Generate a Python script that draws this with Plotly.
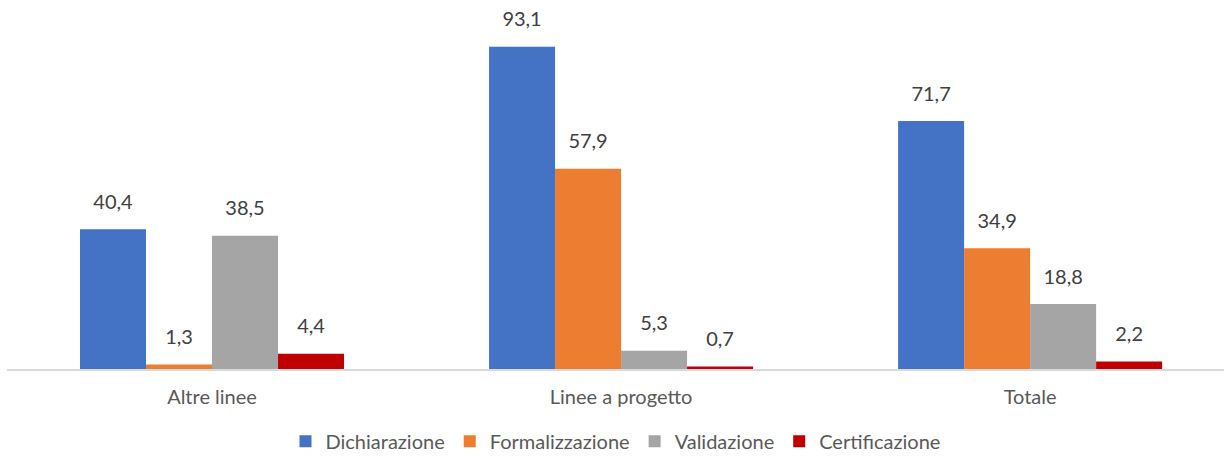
import plotly.graph_objects as go

categories = ["Altre linee", "Linee a progetto", "Totale"]
series_names = ["Dichiarazione", "Formalizzazione", "Validazione", "Certificazione"]
dichiarazione = [40.4, 93.1, 71.7]
formalizzazione = [1.3, 57.9, 34.9]
validazione = [38.5, 5.3, 18.8]
certificazione = [4.4, 0.7, 2.2]
colors = ["#4472C4", "#ED7D31", "#A5A5A5", "#C00000"]

values = [dichiarazione, formalizzazione, validazione, certificazione]
FONT = "Lato, Open Sans, sans-serif"
GAP = 0.3545

fig = go.Figure()
for name, vals, col in zip(series_names, values, colors):
    fig.add_trace(go.Bar(
        name=name, x=categories, y=vals, marker_color=col,
        marker_line_width=0, offsetgroup=name, hoverinfo="skip",
    ))
for name, vals in zip(series_names, values):
    fig.add_trace(go.Scatter(
        x=categories, y=vals, mode="markers+text", offsetgroup=name,
        text=[f"{v:.1f}".replace(".", ",") for v in vals],
        textposition="top center", cliponaxis=False, showlegend=False,
        marker=dict(size=23, opacity=0), hoverinfo="skip",
        textfont=dict(family=FONT, size=20, color="#404040"),
    ))

fig.update_layout(
    barmode="group", bargap=GAP, bargroupgap=0,
    scattermode="group", scattergap=GAP,
    width=1224, height=456,
    margin=dict(l=7, r=0, t=22.6, b=87, autoexpand=False),
    plot_bgcolor="white", paper_bgcolor="white",
    font=dict(family=FONT, size=20, color="#595959"),
    showlegend=True,
    legend=dict(orientation="h", x=0.5, xanchor="center", y=-0.2651, yanchor="bottom",
                font=dict(size=20, color="#595959"), traceorder="normal"),
)
fig.update_xaxes(showline=True, linecolor="#D9D9D9", linewidth=1.5, ticks="",
                 range=[-0.5012, 2.474], ticklabelstandoff=9,
                 tickfont=dict(size=20, color="#595959"))
fig.update_yaxes(visible=False, range=[0, 100], showgrid=False, zeroline=False)

fig.write_html("out.html", config={"displayModeBar": False},
               post_script="document.body.style.margin='0';document.body.style.padding='0';")
